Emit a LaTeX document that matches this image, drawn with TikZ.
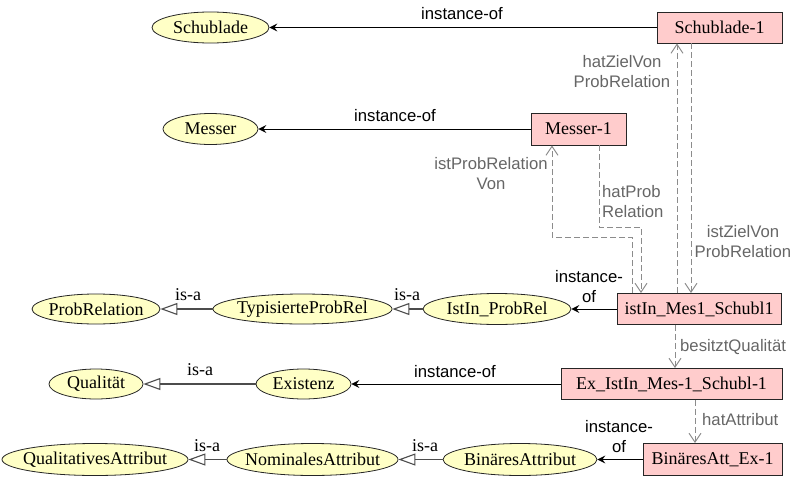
\documentclass[tikz,border=0pt]{standalone}
\usepackage{fontspec}
\setmainfont{Liberation Serif}
\newfontfamily\lsans{Liberation Sans}
\usetikzlibrary{arrows.meta,shapes.geometric}
\definecolor{ellfill}{HTML}{FFFFC6}
\definecolor{boxfill}{HTML}{FFCCCC}
\definecolor{dashcol}{HTML}{8C8C8C}
\definecolor{labcol}{HTML}{666666}
\newcommand\zb[1]{\makebox[0pt]{#1}}
\begin{document}
\begin{tikzpicture}[x=1pt,y=-1pt,
  cls/.style={ellipse,draw=black!85,fill=ellfill,line width=0.8pt,inner sep=0pt,font=\fontsize{18}{21}\selectfont},
  ins/.style={rectangle,draw=black!85,fill=boxfill,line width=0.8pt,inner sep=0pt,font=\fontsize{18}{21}\selectfont},
  lab/.style={font=\lsans\fontsize{16.7}{20}\selectfont,align=center,inner sep=0pt},
  glab/.style={lab,text=labcol},
  isalab/.style={font=\fontsize{18}{21}\selectfont,inner sep=0pt},
  inst/.style={draw=black,line width=0.9pt,-{Stealth[length=8pt,width=8pt,inset=3pt]}},
  isa/.style={draw=black!70,line width=1.1pt,-{Triangle[open,length=17pt,width=12pt,fill=white]}},
  dsh/.style={draw=dashcol,line width=1pt,dash pattern=on 6pt off 3pt,-{Straight Barb[length=9pt,width=12pt]}}
]
\useasboundingbox (0,0) rectangle (793,477);

% nodes
\node[cls,minimum width=117,minimum height=31] (schub) at (210.5,27.5) {\zb{Schublade}};
\node[ins,minimum width=125,minimum height=31] (schub1) at (719.5,27.5) {Schublade-1};
\node[cls,minimum width=95,minimum height=31] (messer) at (210.5,129) {\zb{Messer}};
\node[ins,minimum width=95,minimum height=32] (mes1) at (578.5,129) {Messer-1};
\node[cls,minimum width=128,minimum height=30] (probrel) at (96,309) {\zb{ProbRelation}};
\node[cls,minimum width=179,minimum height=30] (typ) at (302.5,309) {\zb{TypisierteProbRel}};
\node[cls,minimum width=148,minimum height=31] (istinpr) at (497,309) {\zb{IstIn\_ProbRel}};
\node[ins,minimum width=164,minimum height=31] (istin) at (699,309) {istIn\_Mes1\_Schubl1};
\node[cls,minimum width=94,minimum height=30] (qual) at (96,384) {\zb{Qualität}};
\node[cls,minimum width=95,minimum height=30] (exist) at (303.5,384) {\zb{Existenz}};
\node[ins,minimum width=221,minimum height=31] (exbox) at (671.5,384) {Ex\_IstIn\_Mes-1\_Schubl-1};
\node[cls,minimum width=186,minimum height=32] (qualattr) at (95,459.5) {\zb{QualitativesAttribut}};
\node[cls,minimum width=171,minimum height=32] (nomattr) at (312.5,459.5) {\zb{NominalesAttribut}};
\node[cls,minimum width=154,minimum height=32] (binattr) at (520,459.5) {\zb{BinäresAttribut}};
\node[ins,minimum width=139,minimum height=32] (binbox) at (712.5,459.5) {BinäresAtt\_Ex-1};

% instance-of
\draw[inst] (schub1) -- (schub);
\draw[inst] (mes1) -- (messer);
\draw[inst] (istin) -- (istinpr);
\draw[inst] (exbox) -- (exist);
\draw[inst] (binbox) -- (binattr);

% is-a
\draw[isa] (typ) -- (probrel);
\draw[isa] (istinpr) -- (typ);
\draw[isa] (exist) -- (qual);
\draw[isa] (nomattr) -- (qualattr);
\draw[isa] (binattr) -- (nomattr);

% dashed relations
\coordinate (xa) at (552,0);
\coordinate (xb) at (599,0);
\coordinate (xc) at (632,0);
\coordinate (xd) at (641,0);
\coordinate (xe) at (677,0);
\coordinate (xf) at (691,0);
\coordinate (xg) at (675,0);
\coordinate (xh) at (695,0);
\coordinate (ya) at (0,237);
\coordinate (yb) at (0,227);
\draw[dsh] (istin.north -| xc) -- (xc |- ya) -- (xa |- ya) -- (mes1.south -| xa);
\draw[dsh] (mes1.south -| xb) -- (xb |- yb) -- (xd |- yb) -- (istin.north -| xd);
\draw[dsh] (istin.north -| xe) -- (schub1.south -| xe);
\draw[dsh] (schub1.south -| xf) -- (istin.north -| xf);
\draw[dsh] (istin.south -| xg) -- (exbox.north -| xg);
\draw[dsh] (exbox.south -| xh) -- (binbox.north -| xh);

% labels
\node[lab] (l1) at (462,14) {instance-of};
\node[lab] (l2) at (395,116) {instance-of};
\node[lab] (l3) at (589,287) {instance-\\of};
\node[lab] (l4) at (455,372) {instance-of};
\node[lab] (l5) at (619,437) {instance-\\of};
\node[glab] (g1) at (622,72) {hatZielVon\\ProbRelation};
\node[glab] (g2) at (491,174) {istProbRelation\\Von};
\node[glab,anchor=west,align=left] (g3) at (602,202) {hatProb\\Relation};
\node[glab] (g4) at (743,242) {istZielVon\\ProbRelation};
\node[glab,anchor=west] (g5) at (680,347) {besitztQualität};
\node[glab,anchor=west] (g6) at (702,420) {hatAttribut};
\node[isalab] (i1) at (188,295) {is-a};
\node[isalab] (i2) at (407,295) {is-a};
\node[isalab] (i3) at (200,370) {is-a};
\node[isalab] (i4) at (207,446) {is-a};
\node[isalab] (i5) at (425,446) {is-a};
\end{tikzpicture}
\end{document}
